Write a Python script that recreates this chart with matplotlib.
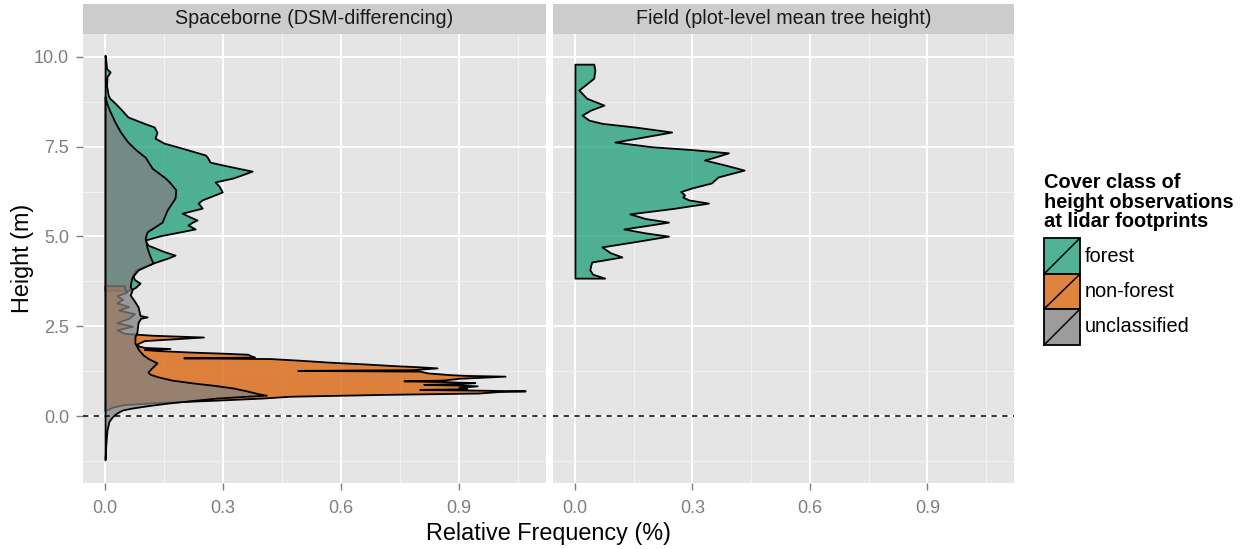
import matplotlib
matplotlib.use("Agg")
import matplotlib.pyplot as plt
from matplotlib.colors import to_rgba
from matplotlib.patches import Rectangle
from matplotlib.lines import Line2D
import numpy as np

plt.rcParams['font.family'] = ['Liberation Sans', 'DejaVu Sans']

# ---------------- data ----------------
panels = ["Spaceborne (DSM-differencing)", "Field (plot-level mean tree height)"]
classes = ["forest", "non-forest", "unclassified"]
class_colors = ["#1B9E77", "#D95F02", "#808080"]

# Spaceborne panel: forest density (height m, relative frequency %)
forest_h = [3.50, 3.57, 3.70, 3.80, 3.92, 4.07, 4.26, 4.40, 4.48, 4.58, 4.76, 4.90, 5.02, 5.10,
            5.21, 5.32, 5.40, 5.46, 5.55, 5.65, 5.79, 5.93, 6.02, 6.24, 6.40, 6.52, 6.63, 6.82,
            6.92, 6.99, 7.07, 7.21, 7.27, 7.46, 7.60, 7.74, 7.90, 8.05, 8.15, 8.33, 8.55, 8.72,
            8.85, 8.94, 9.20, 9.45, 9.58, 9.68, 9.90, 10.05]
forest_f = [0.060, 0.076, 0.089, 0.075, 0.070, 0.078, 0.122, 0.160, 0.178, 0.150, 0.109, 0.102, 0.140, 0.178,
            0.229, 0.211, 0.222, 0.234, 0.215, 0.196, 0.247, 0.237, 0.247, 0.298, 0.290, 0.280, 0.326, 0.374,
            0.330, 0.300, 0.267, 0.260, 0.255, 0.196, 0.150, 0.127, 0.132, 0.125, 0.100, 0.058, 0.040, 0.025,
            0.012, 0.008, 0.004, 0.005, 0.013, 0.004, 0.002, 0.000]

# Spaceborne panel: non-forest density
nonforest_h = [0.15, 0.25, 0.32, 0.38, 0.44, 0.50, 0.55, 0.60, 0.64, 0.68, 0.70, 0.72, 0.74, 0.76,
               0.80, 0.84, 0.86, 0.88, 0.90, 0.93, 0.96, 0.98, 1.00, 1.05, 1.11, 1.13, 1.15, 1.20,
               1.25, 1.27, 1.29, 1.34, 1.37, 1.40, 1.45, 1.50, 1.55, 1.60, 1.62, 1.64, 1.68, 1.72,
               1.75, 1.78, 1.82, 1.85, 1.88, 1.91, 1.95, 2.00, 2.10, 2.20, 2.25, 2.30, 2.40, 2.50,
               2.60, 2.72, 2.85, 2.95, 3.05, 3.15, 3.25, 3.35, 3.45, 3.55, 3.63]
nonforest_f = [0.000, 0.020, 0.050, 0.140, 0.280, 0.400, 0.470, 0.700, 0.950, 1.000, 1.068, 0.950, 0.800, 0.920,
               0.900, 0.946, 0.900, 0.810, 0.900, 0.940, 0.850, 0.760, 0.860, 0.900, 1.017, 0.920, 0.880, 0.820,
               0.800, 0.490, 0.780, 0.844, 0.800, 0.740, 0.660, 0.570, 0.500, 0.420, 0.200, 0.380, 0.370, 0.364,
               0.300, 0.220, 0.140, 0.100, 0.165, 0.100, 0.085, 0.080, 0.100, 0.250, 0.120, 0.050, 0.030, 0.070,
               0.030, 0.060, 0.075, 0.035, 0.060, 0.030, 0.045, 0.030, 0.055, 0.050, 0.050]

# Spaceborne panel: unclassified density
unclass_h = [-1.22, -0.80, -0.39, -0.15, -0.03, 0.05, 0.12, 0.17, 0.22, 0.29, 0.36, 0.44, 0.50, 0.55,
             0.58, 0.62, 0.70, 0.78, 0.85, 0.92, 1.00, 1.09, 1.16, 1.23, 1.35, 1.48, 1.60, 1.70,
             1.85, 2.03, 2.20, 2.34, 2.60, 2.72, 2.76, 2.80, 3.04, 3.18, 3.37, 3.51, 3.60, 3.75,
             3.87, 4.07, 4.26, 4.43, 4.68, 4.96, 5.13, 5.40, 5.74, 6.07, 6.30, 6.50, 6.63, 6.90,
             7.21, 7.40, 7.63, 7.90, 8.19, 8.50, 8.72, 8.90]
unclass_f = [0.000, 0.002, 0.005, 0.010, 0.018, 0.026, 0.036, 0.045, 0.068, 0.110, 0.160, 0.230, 0.285, 0.360,
             0.410, 0.390, 0.360, 0.326, 0.280, 0.224, 0.170, 0.135, 0.115, 0.109, 0.120, 0.132, 0.110, 0.097,
             0.085, 0.076, 0.076, 0.081, 0.084, 0.090, 0.107, 0.089, 0.084, 0.076, 0.064, 0.069, 0.064, 0.066,
             0.069, 0.084, 0.122, 0.115, 0.107, 0.102, 0.107, 0.145, 0.158, 0.178, 0.180, 0.165, 0.153, 0.120,
             0.102, 0.080, 0.058, 0.040, 0.025, 0.012, 0.004, 0.000]

# Field panel: forest density (plot-level mean tree height)
field_h = [3.84, 3.95, 4.07, 4.18, 4.29, 4.43, 4.55, 4.71, 4.85, 5.01, 5.10, 5.21, 5.30, 5.40,
           5.50, 5.63, 5.78, 5.93, 6.02, 6.10, 6.16, 6.25, 6.35, 6.49, 6.66, 6.85, 7.00, 7.13,
           7.22, 7.33, 7.42, 7.50, 7.63, 7.78, 7.91, 8.05, 8.15, 8.24, 8.38, 8.52, 8.66, 8.85,
           9.08, 9.25, 9.41, 9.64, 9.80]
field_f = [0.076, 0.045, 0.038, 0.040, 0.043, 0.120, 0.090, 0.069, 0.150, 0.239, 0.180, 0.125, 0.180, 0.239,
           0.180, 0.140, 0.250, 0.341, 0.290, 0.275, 0.280, 0.270, 0.298, 0.348, 0.366, 0.432, 0.380, 0.331,
           0.360, 0.392, 0.300, 0.196, 0.102, 0.180, 0.247, 0.153, 0.070, 0.036, 0.018, 0.040, 0.074, 0.030,
           0.010, 0.030, 0.048, 0.051, 0.048]

x_ticks = [0.0, 0.3, 0.6, 0.9]
y_ticks = [0.0, 2.5, 5.0, 7.5, 10.0]

# ---------------- figure ----------------
W, H = 1258, 549
fig = plt.figure(figsize=(W / 100, H / 100), dpi=100)
fig.patch.set_facecolor("white")

def fx(px):
    return px / W

def fy(py):
    return 1 - py / H

panel_x = [(83, 546), (553, 1014)]
top, bottom = 34, 483
strip_top = 4

ALPHA = 0.75
xlim = (-0.056, 1.121)
ylim = (-1.866, 10.64)

axes = []
for i, (x0, x1) in enumerate(panel_x):
    ax = fig.add_axes([fx(x0), fy(bottom), fx(x1) - fx(x0), fy(top) - fy(bottom)])
    ax.set_facecolor("#E5E5E5")
    for s in ax.spines.values():
        s.set_visible(False)
    ax.set_xlim(*xlim)
    ax.set_ylim(*ylim)
    ax.set_xticks(x_ticks)
    ax.set_xticklabels([f"{v:.1f}" for v in x_ticks])
    ax.set_xticks([0.15, 0.45, 0.75, 1.05], minor=True)
    ax.set_yticks(y_ticks)
    ax.set_yticks([-1.25, 1.25, 3.75, 6.25, 8.75], minor=True)
    if i == 0:
        ax.set_yticklabels([f"{v:.1f}" for v in y_ticks])
    else:
        ax.tick_params(axis="y", which="both", left=False, labelleft=False)
    ax.grid(which="major", color="white", lw=1.4)
    ax.grid(which="minor", color="#F2F2F2", lw=0.8)
    ax.set_axisbelow(True)
    ax.tick_params(axis="both", which="major", color="#7F7F7F", labelcolor="#7F7F7F",
                   labelsize=13, length=5, width=1.0)
    ax.tick_params(axis="x", which="major", pad=7)
    ax.tick_params(axis="y", which="major", pad=5)
    ax.tick_params(which="minor", length=0)
    # strip
    sax = fig.add_axes([fx(x0), fy(top), fx(x1) - fx(x0), fy(strip_top) - fy(top)])
    sax.set_facecolor("#CCCCCC")
    sax.set_xticks([])
    sax.set_yticks([])
    for s in sax.spines.values():
        s.set_visible(False)
    sax.text(0.5, 0.5, panels[i], ha="center", va="center", fontsize=14.2,
             color="#1A1A1A", transform=sax.transAxes)
    axes.append(ax)

ax0, ax1 = axes
series_left = [(forest_h, forest_f, 0), (nonforest_h, nonforest_f, 1), (unclass_h, unclass_f, 2)]
for h, f, ci in series_left:
    ax0.fill_betweenx(h, 0, f, facecolor=to_rgba(class_colors[ci], ALPHA),
                      edgecolor="black", linewidth=1.3, zorder=2)
ax1.fill_betweenx(field_h, 0, field_f, facecolor=to_rgba(class_colors[0], ALPHA),
                  edgecolor="black", linewidth=1.3, zorder=2)

for ax in axes:
    ax.axhline(0, color="black", lw=1.1, ls=(0, (3.5, 3.5)), zorder=3)

# axis titles
fig.text(fx(548), fy(540), "Relative Frequency (%)", ha="center", va="baseline", fontsize=16.8)
fig.text(fx(22), fy(258), "Height (m)", ha="center", va="center", rotation=90, fontsize=16.8)

# legend
title_lines = ["Cover class of", "height observations", "at lidar footprints"]
for k, (line, base) in enumerate(zip(title_lines, [188, 208, 227])):
    fig.text(fx(1044), fy(base), line, ha="left", va="baseline", fontsize=14.4,
             fontweight="bold")
key_tops = [238, 274, 309]
key_h = [36, 35, 36]
for ci, (kt, kh) in enumerate(zip(key_tops, key_h)):
    bg = Rectangle((fx(1044), fy(kt + kh)), fx(1080) - fx(1044), fy(kt) - fy(kt + kh),
                   transform=fig.transFigure, facecolor="#F2F2F2", edgecolor="none")
    fig.add_artist(bg)
    r = Rectangle((fx(1044), fy(kt + kh)), fx(1080) - fx(1044), fy(kt) - fy(kt + kh),
                  transform=fig.transFigure, facecolor=to_rgba(class_colors[ci], ALPHA),
                  edgecolor="black", linewidth=1.3)
    fig.add_artist(r)
    fig.add_artist(Line2D([fx(1044), fx(1080)], [fy(kt + kh), fy(kt)], transform=fig.transFigure,
                          color="black", lw=1.1))
    fig.text(fx(1085), fy(kt + kh / 2), classes[ci], ha="left", va="center", fontsize=14.4)

fig.savefig("out.png", dpi=100)
